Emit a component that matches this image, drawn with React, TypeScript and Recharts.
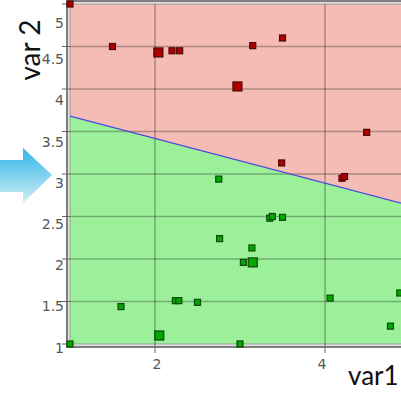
import { ComposedChart, Area, Line, Scatter, XAxis, YAxis, ReferenceLine, ReferenceArea } from "recharts";

// decision boundary endpoints
const boundaryX = [1, 5];
const boundaryY = [3.68, 2.63];

const xTicks = [2, 4];
const yTicks = [1, 1.5, 2, 2.5, 3, 3.5, 4, 4.5, 5];

const redPoints = [
  { x: 1, y: 5, big: false },
  { x: 1.5, y: 4.5, big: false },
  { x: 2.04, y: 4.43, big: true },
  { x: 2.2, y: 4.45, big: false },
  { x: 2.29, y: 4.45, big: false },
  { x: 3.15, y: 4.51, big: false },
  { x: 2.97, y: 4.03, big: true },
  { x: 3.5, y: 4.6, big: false },
  { x: 4.49, y: 3.49, big: false },
  { x: 3.49, y: 3.13, big: false },
  { x: 4.2, y: 2.95, big: false },
  { x: 4.23, y: 2.97, big: false },
];

const greenPoints = [
  { x: 1, y: 1, big: false },
  { x: 1.6, y: 1.44, big: false },
  { x: 2.75, y: 2.94, big: false },
  { x: 2.76, y: 2.24, big: false },
  { x: 3.14, y: 2.13, big: false },
  { x: 3.04, y: 1.96, big: false },
  { x: 3.15, y: 1.96, big: true },
  { x: 2.24, y: 1.51, big: false },
  { x: 2.28, y: 1.51, big: false },
  { x: 2.5, y: 1.49, big: false },
  { x: 2.05, y: 1.1, big: true },
  { x: 3.0, y: 1.0, big: false },
  { x: 3.35, y: 2.48, big: false },
  { x: 3.38, y: 2.5, big: false },
  { x: 3.5, y: 2.49, big: false },
  { x: 4.06, y: 1.54, big: false },
  { x: 4.77, y: 1.21, big: false },
  { x: 4.88, y: 1.6, big: false },
];

const regions = boundaryX.map((x, i) => ({
  x,
  line: boundaryY[i],
  above: [boundaryY[i], 5],
  below: [1, boundaryY[i]],
}));

const square = (fill: string, stroke: string) => (props: any) => {
  const { cx, cy, payload } = props;
  const s = payload.big ? 9 : 6;
  return <rect x={cx - s / 2} y={cy - s / 2} width={s} height={s} fill={fill} stroke={stroke} strokeWidth={1.2} />;
};

// labels in the original drift slightly off their grid lines
const YTick = ({ x, y, payload }: any) => (
  <text x={x + 2} y={y + 8.5 + (payload.value - 1) * 2.6} textAnchor="end" fill="#555" fontSize={14} fontFamily="DejaVu Sans">
    {payload.value}
  </text>
);

const XTick = ({ x, y, payload }: any) => (
  <text x={x + 2 - (payload.value - 2) * 2.5} y={y + 16} textAnchor="middle" fill="#555" fontSize={14} fontFamily="DejaVu Sans">
    {payload.value}
  </text>
);

const Frame = ({ x, y, width, height }: any) => (
  <g fill="none">
    <rect x={x - 1.5} y={y - 1.5} width={width + 3} height={height + 3} stroke="#e2e2e2" strokeWidth={2} />
    <rect x={x} y={y} width={width} height={height} stroke="#999" strokeWidth={1} />
    <rect x={x - 3} y={y - 3} width={width + 6} height={height + 6} stroke="#555" strokeWidth={1.5} />
  </g>
);

export default function App() {
  return (
    <div style={{ position: "absolute", left: 0, top: 0, width: 401, height: 393, overflow: "hidden", background: "#fff" }}>
      <svg width={60} height={70} style={{ position: "absolute", left: 0, top: 140 }}>
        <defs>
          <linearGradient id="arrowGrad" x1="0" y1="0" x2="0" y2="1">
            <stop offset="0%" stopColor="#2fb4ea" />
            <stop offset="100%" stopColor="#d2f0f4" />
          </linearGradient>
        </defs>
        <polygon points="0,20 23,20 23,8 52,35 23,63 23,52 0,52" fill="url(#arrowGrad)" />
      </svg>
      <ComposedChart width={420} height={393} data={regions} margin={{ top: 4, right: 10, bottom: 0, left: 0 }}>
        <XAxis
          dataKey="x"
          type="number"
          domain={[1, 5]}
          ticks={xTicks}
          axisLine={false}
          tickSize={9}
          tickMargin={0}
          tickLine={{ stroke: "#666" }}
          tick={<XTick />}
          height={49}
          label={({ viewBox }: any) => (
            <text x={viewBox.x + 278} y={viewBox.y + 41} fontSize={26} fontFamily="Lato" fill="#111">
              var1
            </text>
          )}
        />
        <YAxis
          type="number"
          domain={[1, 5]}
          ticks={yTicks}
          axisLine={false}
          tickSize={8}
          tickMargin={0}
          tickLine={{ stroke: "#666" }}
          tick={<YTick />}
          width={70}
          label={({ viewBox }: any) => (
            <text
              x={viewBox.x + 29}
              y={viewBox.y + 46}
              fontSize={28}
              fontFamily="Lato"
              fill="#111"
              textAnchor="middle"
              dominantBaseline="central"
              transform={`rotate(-90 ${viewBox.x + 29} ${viewBox.y + 46})`}
            >
              var 2
            </text>
          )}
        />
        <Area dataKey="above" type="linear" fill="#f4bcb4" fillOpacity={1} stroke="none" isAnimationActive={false} />
        <Area dataKey="below" type="linear" fill="#9cf09a" fillOpacity={1} stroke="none" isAnimationActive={false} />
        {yTicks.slice(1, -1).map((v) => (
          <ReferenceLine key={`y${v}`} y={v} stroke="#000" strokeOpacity={0.28} strokeWidth={1.3} />
        ))}
        {xTicks.map((v) => (
          <ReferenceLine key={`x${v}`} x={v} stroke="#000" strokeOpacity={0.22} strokeWidth={2} />
        ))}
        <Line dataKey="line" type="linear" stroke="#4a4ad8" strokeWidth={1.3} dot={false} isAnimationActive={false} />
        <ReferenceArea x1={1} x2={5} y1={1} y2={5} shape={<Frame />} />
        <Scatter data={greenPoints} dataKey="y" shape={square("#00a800", "#0b4a0b")} isAnimationActive={false} />
        <Scatter data={redPoints} dataKey="y" shape={square("#b00000", "#4a0808")} isAnimationActive={false} />
      </ComposedChart>
    </div>
  );
}
